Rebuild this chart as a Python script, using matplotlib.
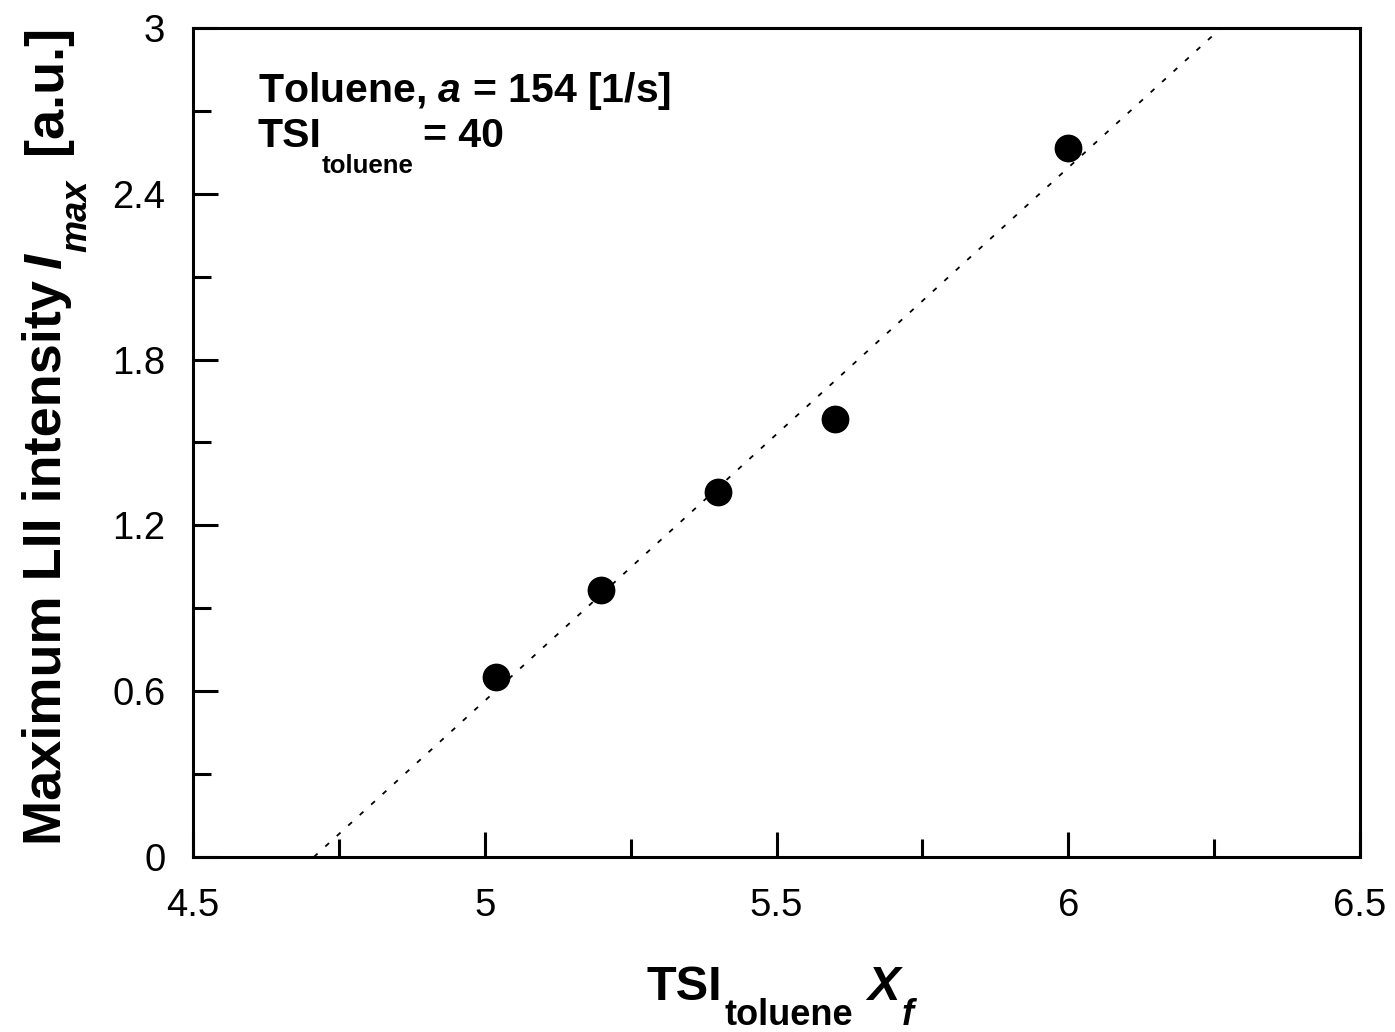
import numpy as np
import matplotlib.pyplot as plt
from matplotlib.ticker import MultipleLocator, FixedLocator

plt.rcParams['font.family'] = ['Liberation Sans', 'DejaVu Sans']
plt.rcParams['mathtext.fontset'] = 'custom'
plt.rcParams['mathtext.rm'] = 'Liberation Sans:bold'
plt.rcParams['mathtext.bf'] = 'Liberation Sans:bold'
plt.rcParams['mathtext.it'] = 'Liberation Sans:bold:italic'

# measured points
tsi_xf = [5.02, 5.20, 5.40, 5.60, 6.00]
imax = [0.65, 0.965, 1.32, 1.585, 2.565]

# dotted fit line end points
fit_x = [4.707, 6.262]
fit_y = [0.0, 3.0]

xticks = [4.5, 5, 5.5, 6, 6.5]
xlabels = ["4.5", "5", "5.5", "6", "6.5"]
yticks = [0, 0.6, 1.2, 1.8, 2.4, 3]
ylabels = ["0", "0.6", "1.2", "1.8", "2.4", "3"]

W, H = 1395, 1032
fig = plt.figure(figsize=(W / 100, H / 100), dpi=100)
ax = fig.add_axes([0.1384, 0.1696, 0.9749 - 0.1384, 0.9729 - 0.1696])


def rich(pieces, x, y, center=True, rotation=0):
    """pieces: (text, size, style, drop_px, gap_px); x, y in pixels from top-left"""
    r = fig.canvas.get_renderer()
    texts, lens = [], []
    for s, size, style, drop, gap in pieces:
        t = fig.text(0, 0, s, fontsize=size, fontweight="bold", fontstyle=style,
                     rotation=rotation, rotation_mode="anchor", ha="left", va="baseline")
        bb = t.get_window_extent(r)
        texts.append(t)
        lens.append(bb.height if rotation else bb.width)
    total = sum(lens) + sum(p[4] for p in pieces)
    pos = -total / 2 if center else 0
    for t, L, p in zip(texts, lens, pieces):
        pos += p[4]
        if rotation:
            px, py = x + p[3], y - pos
        else:
            px, py = x + pos, y + p[3]
        t.set_position((px / W, 1 - py / H))
        pos += L


ax.plot(fit_x, fit_y, color="black", lw=1.3, linestyle=(0, (2.8, 5.8)))
ax.plot(tsi_xf, imax, "o", color="black", markersize=19, linestyle="none")

ax.set_xlim(4.5, 6.5)
ax.set_ylim(0, 3)
ax.xaxis.set_major_locator(FixedLocator(xticks))
ax.set_xticklabels(xlabels)
ax.yaxis.set_major_locator(FixedLocator(yticks))
ax.set_yticklabels(ylabels)
ax.xaxis.set_minor_locator(MultipleLocator(0.25))
ax.yaxis.set_minor_locator(MultipleLocator(0.3))

for s in ax.spines.values():
    s.set_linewidth(2.2)
ax.tick_params(which="both", direction="in", top=False, right=False, width=2.2)
ax.tick_params(which="major", length=18, labelsize=27.5)
ax.tick_params(which="minor", length=13)
ax.tick_params(axis="y", which="major", pad=20)
ax.tick_params(axis="x", which="major", pad=22)

# x label
rich([("TSI", 35, "normal", 0, 0),
      ("toluene", 26, "normal", 25, 2),
      ("X", 35, "italic", 0, 14),
      ("f", 26, "italic", 25, 2)], 780, 1000)

# y label (reads bottom to top)
rich([("Maximum LII intensity", 39, "normal", 0, 0),
      ("I", 39, "italic", 0, 11),
      ("max", 26, "italic", 25, 2),
      ("[a.u.]", 39, "normal", 0, 26)], 61, 435, rotation=90)

# annotation
ax.text(0.0557, 0.9107, r"Toluene, $a$ = 154 [1/s]", transform=ax.transAxes,
        fontsize=29.5, fontweight="bold", va="baseline")
rich([("TSI", 29.5, "normal", 0, 0),
      ("toluene", 18.6, "normal", 26, 0),
      ("= 40", 29.5, "normal", 0, 9)], 258, 147, center=False)

fig.savefig("out.png", dpi=100)
